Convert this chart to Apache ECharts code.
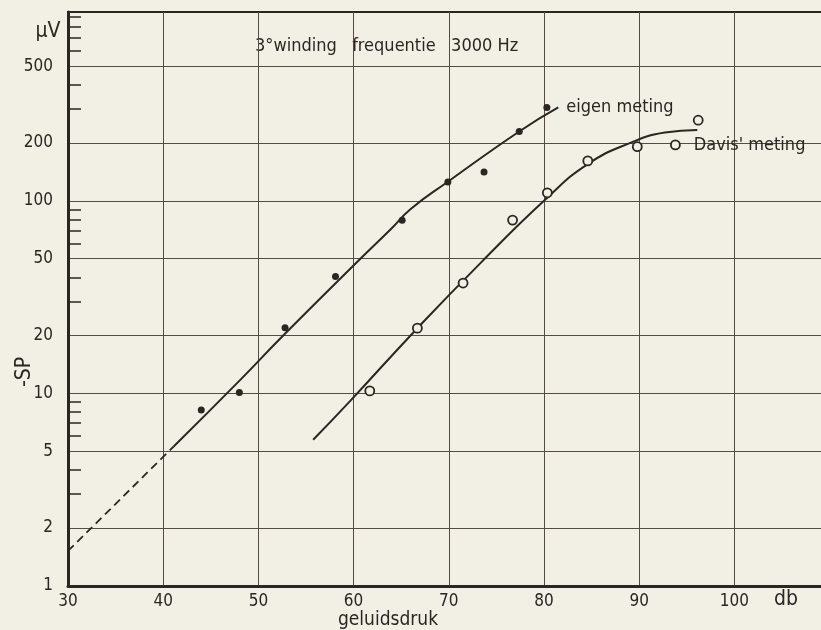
<!DOCTYPE html>
<html>
<head>
<meta charset="utf-8">
<script src="https://cdn.jsdelivr.net/npm/echarts@6/dist/echarts.min.js"></script>
<style>
  html, body { margin: 0; padding: 0; background: #f2f0e4; }
  #chart { width: 821px; height: 630px; }
</style>
</head>
<body>
<div id="chart"></div>
<script>
// eigen meting, filled dots  [db, µV]
var eigenDots = [[44.0, 8.2], [48.0, 10.1], [52.8, 21.9], [58.1, 40.5], [65.1, 79.3],
                 [69.9, 125], [73.7, 141], [77.4, 229], [80.3, 305]];
// Davis' meting, open circles
var davisDots = [[61.7, 10.3], [66.7, 21.8], [71.5, 37.4], [76.7, 79.4], [80.35, 110],
                 [84.6, 161], [89.8, 191], [93.8, 195], [96.2, 262]];
// hand drawn curves
var eigenDashed = [[30, 1.52], [41.1, 5.3]];
var eigenCurve = [[41.1, 5.3], [48.2, 11.9], [52.4, 19.5], [60.5, 48.8], [63.9, 71.1],
                  [66.0, 90.6], [69.9, 125.5], [77.4, 229], [81.5, 305]];
var davisCurve = [[55.75, 5.74], [59.7, 9.2], [66.7, 21.8], [73.4, 47.9], [80.2, 102],
                  [84.6, 155], [89.2, 201], [92.7, 226], [96.1, 233]];
// axis ticks
var yLabels = [1, 2, 5, 10, 20, 50, 100, 200, 500];
var yMinor = [3, 4, 6, 7, 8, 9, 30, 40, 60, 70, 80, 90, 300, 400, 600, 700, 800, 900];

var INK = '#2b2523';
var GRIDC = '#554a44';
var PAPER = '#f2f0e4';
var FONT = "'Liberation Sans Narrow','DejaVu Sans Condensed','DejaVu Sans',sans-serif";

var chart = echarts.init(document.getElementById('chart'));

// label "Davis' meting" hangs on the 8th circle
var davisData = davisDots.map(function (p, i) {
    if (i === 7) {
        return {
            value: p,
            label: {
                show: true, position: 'right', distance: 13,
                formatter: "Davis' meting", color: INK, fontSize: 18, fontFamily: FONT
            }
        };
    }
    return p;
});

var option = {
    backgroundColor: PAPER,
    animation: false,
    textStyle: { fontFamily: FONT, color: INK },
    grid: {
        left: 68, right: -8.6, top: 12, bottom: 44,
        outerBoundsMode: 'none',
        show: true, borderColor: INK, borderWidth: 2, backgroundColor: 'transparent'
    },
    xAxis: {
        type: 'value', min: 30, max: 110, interval: 10,
        axisLine: { show: true, lineStyle: { color: INK, width: 3 } },
        axisTick: { show: false },
        axisLabel: {
            margin: 7, fontSize: 17, color: INK, fontFamily: FONT,
            formatter: function (v) { return v > 100 ? '' : v; }
        },
        splitLine: { show: true, lineStyle: { color: GRIDC, width: 1 } }
    },
    yAxis: [{
        type: 'log', logBase: 10, min: 1, max: 955,
        axisLine: { show: true, lineStyle: { color: INK, width: 3 } },
        axisTick: { show: false, customValues: yLabels },
        axisLabel: { customValues: yLabels, margin: 15, fontSize: 17, color: INK, fontFamily: FONT },
        splitLine: { show: true, lineStyle: { color: GRIDC, width: 1 } }
    }, {
        type: 'log', logBase: 10, min: 1, max: 955, position: 'left',
        axisLine: { show: false },
        axisLabel: { show: false },
        splitLine: { show: false },
        axisTick: { show: true, inside: true, length: 13, customValues: yMinor,
                    lineStyle: { color: INK, width: 1.5 } }
    }],
    graphic: [
        { type: 'text', x: 48, y: 32, style: { text: 'µV', fill: INK, font: '21px ' + FONT, textAlign: 'center', textVerticalAlign: 'middle' } },
        { type: 'text', x: 786, y: 600, style: { text: 'db', fill: INK, font: '21px ' + FONT, textAlign: 'center', textVerticalAlign: 'middle' } },
        { type: 'text', x: 388, y: 620, style: { text: 'geluidsdruk', fill: INK, font: '19px ' + FONT, textAlign: 'center', textVerticalAlign: 'middle' } },
        { type: 'text', x: 25, y: 372, rotation: Math.PI / 2, style: { text: '-SP', fill: INK, font: '21px ' + FONT, textAlign: 'center', textVerticalAlign: 'middle' } },
        { type: 'text', x: 255, y: 46, style: { text: '3°winding   frequentie   3000 Hz', fill: INK, font: '18px ' + FONT, textAlign: 'left', textVerticalAlign: 'middle' } }
    ],
    series: [{
        name: 'eigen extrapolatie', type: 'line', data: eigenDashed,
        showSymbol: false, lineStyle: { color: INK, width: 1.8, type: [8, 5] }
    }, {
        name: 'eigen meting curve', type: 'line', data: eigenCurve, smooth: 0.5,
        showSymbol: false, lineStyle: { color: INK, width: 2 },
        endLabel: { show: true, formatter: 'eigen meting', distance: 8, color: INK, fontSize: 18, fontFamily: FONT }
    }, {
        name: 'Davis curve', type: 'line', data: davisCurve, smooth: 0.5,
        showSymbol: false, lineStyle: { color: INK, width: 2 }
    }, {
        name: 'eigen meting', type: 'scatter', data: eigenDots, z: 5,
        symbol: 'circle', symbolSize: 7, itemStyle: { color: INK, opacity: 1 }
    }, {
        name: "Davis' meting", type: 'scatter', data: davisData, z: 5,
        symbol: 'circle', symbolSize: 9,
        itemStyle: { color: PAPER, borderColor: INK, borderWidth: 1.8, opacity: 1 }
    }]
};

chart.setOption(option);
</script>
</body>
</html>
